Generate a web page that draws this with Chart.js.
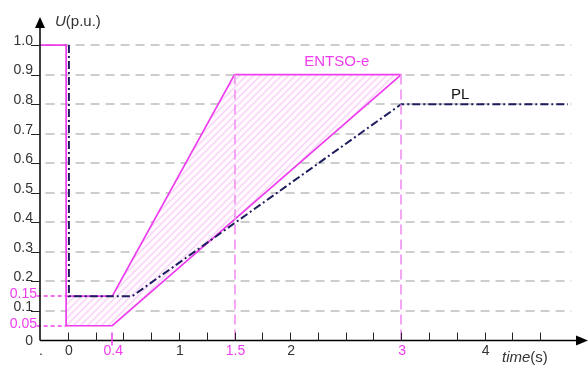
<!DOCTYPE html>
<html>
<head>
<meta charset="utf-8">
<script src="https://cdn.jsdelivr.net/npm/chart.js@4.4.1/dist/chart.umd.min.js"></script>
<style>
  html, body { margin: 0; padding: 0; background: #fff; }
  canvas { display: block; }
</style>
</head>
<body>
<canvas id="graficoTensao" width="588" height="365"></canvas>
<script>
// ENTSO-e: outer boundary (1.0 before the fault, lower ramp to 0.9 at 3 s)
const entsoLowX = [-0.25, -0.015, -0.015, 0.4, 3];
const entsoLowY = [1.0, 1.0, 0.05, 0.05, 0.9];
// ENTSO-e: upper boundary
const entsoUpX = [-0.015, 0.4, 1.5, 3];
const entsoUpY = [0.15, 0.15, 0.9, 0.9];
// PL curve
const plX = [0.01, 0.01, 0.58, 3, 4.5];
const plY = [1.0, 0.15, 0.15, 0.8, 0.8];

const yTicks = [0, 0.1, 0.2, 0.3, 0.4, 0.5, 0.6, 0.7, 0.8, 0.9, 1.0];
const yTickLabels = ['0', '0.1', '0.2', '0.3', '0.4', '0.5', '0.6', '0.7', '0.8', '0.9', '1.0'];
const xTicks = [0, 0.25, 0.5, 0.75, 1, 1.25, 1.5, 1.75, 2, 2.25, 2.5, 2.75, 3, 3.25, 3.5, 3.75, 4, 4.25];
const xLabelVals = [-0.25, 0, 0.4, 1, 1.5, 2, 3, 3.75];
const xLabels = ['.', '0', '0.4', '1', '1.5', '2', '3', '4'];
const markLevels = [0.15, 0.05];
const markLevelLabels = ['0.15', '0.05'];
const markTimes = [1.5, 3];

const pts = (xs, ys) => xs.map((v, i) => ({x: v, y: ys[i]}));

const pink = '#ee3cee';
const fonte = '"Liberation Sans", Arial, sans-serif';

// hatch pattern for the ENTSO-e area
function hachura() {
  const c = document.createElement('canvas');
  c.width = 7; c.height = 7;
  const g = c.getContext('2d');
  g.fillStyle = '#fefafe';
  g.fillRect(0, 0, 7, 7);
  g.strokeStyle = '#f8d2f8';
  g.lineWidth = 1.3;
  g.beginPath();
  g.moveTo(0, 7); g.lineTo(7, 0);
  g.moveTo(-1, 1); g.lineTo(1, -1);
  g.moveTo(6, 8); g.lineTo(8, 6);
  g.stroke();
  return g.createPattern(c, 'repeat');
}

const fundo = {
  id: 'fundo',
  beforeDatasetsDraw(chart) {
    const {ctx, scales: {x, y}} = chart;
    ctx.save();
    // grey dashed grid
    ctx.strokeStyle = '#bdbdbd';
    ctx.lineWidth = 1.4;
    ctx.setLineDash([9, 6]);
    yTicks.forEach(v => {
      if (v === 0) return;
      const py = Math.round(y.getPixelForValue(v));
      ctx.beginPath();
      ctx.moveTo(x.getPixelForValue(-0.2), py);
      ctx.lineTo(x.getPixelForValue(4.53), py);
      ctx.stroke();
    });
    ctx.restore();
  },
  afterDatasetsDraw(chart) {
    const {ctx, scales: {x, y}} = chart;
    const x0 = x.getPixelForValue(-0.25);
    const y0 = y.getPixelForValue(0);
    ctx.save();
    // pink guides
    ctx.strokeStyle = '#f39cf3';
    ctx.lineWidth = 1.8;
    ctx.setLineDash([10, 5]);
    markTimes.forEach(t => {
      const px = Math.round(x.getPixelForValue(t));
      ctx.beginPath();
      ctx.moveTo(px, y.getPixelForValue(0.9));
      ctx.lineTo(px, y0);
      ctx.stroke();
    });
    ctx.strokeStyle = pink;
    ctx.lineWidth = 1.5;
    ctx.setLineDash([4, 3]);
    markLevels.forEach(v => {
      const py = Math.round(y.getPixelForValue(v));
      ctx.beginPath();
      ctx.moveTo(x.getPixelForValue(-0.28), py);
      ctx.lineTo(x.getPixelForValue(-0.015), py);
      ctx.stroke();
    });
    ctx.setLineDash([]);

    ctx.strokeStyle = '#000';
    ctx.fillStyle = '#000';
    ctx.lineWidth = 1.5;
    ctx.beginPath();
    ctx.moveTo(x0, y0);
    ctx.lineTo(x0, y.getPixelForValue(1.06));
    ctx.moveTo(x0, y0);
    ctx.lineTo(x.getPixelForValue(4.6), y0);
    ctx.stroke();
    // arrows
    const yt = y.getPixelForValue(y.max);
    ctx.beginPath();
    ctx.moveTo(x0, yt);
    ctx.lineTo(x0 - 5, yt + 11);
    ctx.lineTo(x0 + 5, yt + 11);
    ctx.closePath();
    ctx.fill();
    const xr = x.getPixelForValue(x.max);
    ctx.beginPath();
    ctx.moveTo(xr, y0);
    ctx.lineTo(xr - 12, y0 - 5);
    ctx.lineTo(xr - 12, y0 + 5);
    ctx.closePath();
    ctx.fill();

    // ticks
    ctx.lineWidth = 1;
    ctx.strokeStyle = '#222';
    xTicks.forEach(t => {
      const px = Math.round(x.getPixelForValue(t)) + 0.5;
      ctx.beginPath();
      ctx.moveTo(px, y0);
      ctx.lineTo(px, y0 - 8);
      ctx.stroke();
    });
    yTicks.forEach(v => {
      if (v === 0) return;
      const py = Math.round(y.getPixelForValue(v)) + 0.5;
      ctx.beginPath();
      ctx.moveTo(x0 - 9, py);
      ctx.lineTo(x0, py);
      ctx.stroke();
    });
    ctx.strokeStyle = pink;
    ctx.lineWidth = 1.5;
    ctx.beginPath();
    const p04 = Math.round(x.getPixelForValue(0.4));
    ctx.moveTo(p04, y0 - 8);
    ctx.lineTo(p04, y0 + 5);
    ctx.stroke();

    // tick labels
    ctx.font = '14px ' + fonte;
    ctx.textAlign = 'right';
    ctx.textBaseline = 'middle';
    yTicks.forEach((v, i) => {
      ctx.fillStyle = '#333';
      const py = y.getPixelForValue(v);
      ctx.fillText(yTickLabels[i], x0 - 7, v === 0 ? py + 1 : py - 4);
    });
    ctx.fillStyle = pink;
    markLevels.forEach((v, i) => {
      ctx.fillText(markLevelLabels[i], x0 - 3, y.getPixelForValue(v) - 2);
    });
    ctx.textAlign = 'center';
    xLabelVals.forEach((v, i) => {
      const rosa = v === 0.4 || markTimes.includes(v);
      ctx.fillStyle = rosa ? pink : '#333';
      ctx.fillText(xLabels[i], x.getPixelForValue(v) + 1, y0 + 11);
    });

    // axis titles
    ctx.fillStyle = '#333';
    ctx.textAlign = 'left';
    ctx.font = 'italic 15px ' + fonte;
    ctx.fillText('U', 55, 22);
    let w = ctx.measureText('U').width;
    ctx.font = '15px ' + fonte;
    ctx.fillText('(p.u.)', 55 + w, 22);
    ctx.font = 'italic 15px ' + fonte;
    ctx.fillText('time', 502, y0 + 17);
    w = ctx.measureText('time').width;
    ctx.font = '15px ' + fonte;
    ctx.fillText('(s)', 502 + w, y0 + 17);

    // series labels
    ctx.textAlign = 'center';
    ctx.font = '15px ' + fonte;
    ctx.fillStyle = pink;
    ctx.fillText('ENTSO-e', x.getPixelForValue(2.42), y.getPixelForValue(0.944));
    ctx.fillStyle = '#111';
    ctx.fillText('PL', x.getPixelForValue(3.53), y.getPixelForValue(0.832));
    ctx.restore();
  }
};

const ctx = document.getElementById('graficoTensao');

new Chart(ctx, {
  type: 'line',
  data: {
    datasets: [
      {
        label: 'PL',
        data: pts(plX, plY),
        borderColor: '#1c1c5e',
        borderWidth: 2,
        borderDash: [8, 3, 2, 3],
        pointRadius: 0,
        fill: false,
        order: 1
      },
      {
        label: 'ENTSO-e',
        data: pts(entsoLowX, entsoLowY),
        borderColor: pink,
        borderWidth: 1.7,
        pointRadius: 0,
        fill: false,
        order: 2
      },
      {
        label: 'ENTSO-e upper',
        data: pts(entsoUpX, entsoUpY),
        borderColor: pink,
        borderWidth: 1.7,
        pointRadius: 0,
        fill: false,
        order: 2
      },
      {
        label: 'area',
        data: pts(entsoUpX, entsoUpY).concat(pts(entsoLowX, entsoLowY).slice(2).reverse()),
        borderWidth: 0,
        borderColor: 'rgba(0,0,0,0)',
        backgroundColor: hachura(),
        pointRadius: 0,
        fill: 'shape',
        order: 3
      }
    ]
  },
  options: {
    responsive: false,
    animation: false,
    devicePixelRatio: 1,
    layout: { padding: { left: 40, right: 0, top: 17, bottom: 24.5 } },
    scales: {
      x: { type: 'linear', min: -0.25, max: 4.68, display: false },
      y: { min: 0, max: 1.095, display: false }
    },
    plugins: {
      legend: { display: false },
      tooltip: { enabled: false }
    }
  },
  plugins: [fundo]
});
</script>
</body>
</html>
